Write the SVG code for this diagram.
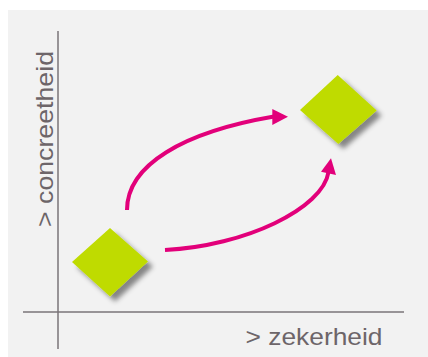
<svg xmlns="http://www.w3.org/2000/svg" width="428" height="357" viewBox="0 0 428 357">
<style>
.axis{stroke:#7a7478;stroke-width:1.5;fill:none}
.lbl{font-family:"Liberation Sans",Arial,sans-serif;font-size:24.5px;fill:#6d6569}
.node{fill:#bfdb00;filter:url(#sh)}
.arc{stroke:#e2007a;stroke-width:4;fill:none}
.head{fill:#e2007a}
</style>
<defs>
<filter id="sh" x="-30%" y="-30%" width="170%" height="170%">
<feDropShadow dx="5" dy="5" stdDeviation="2.5" flood-color="#000" flood-opacity="0.45"/>
</filter>
</defs>
<rect x="8" y="10" width="420" height="347" fill="#f2f2f2"/>
<g id="axes">
<line class="axis" x1="58" y1="31" x2="58" y2="349"/>
<line class="axis" x1="23" y1="312" x2="404" y2="312"/>
<text class="lbl" x="245.5" y="344.5" textLength="137" lengthAdjust="spacingAndGlyphs">&gt; zekerheid</text>
<text class="lbl" transform="translate(52.5,227) rotate(-90)" x="0" y="0" textLength="176" lengthAdjust="spacingAndGlyphs">&gt; concreetheid</text>
</g>
<g id="node-start">
<polygon class="node" points="72,262 110,228 148,261.5 110,296.5"/>
</g>
<g id="node-end">
<polygon class="node" points="300,110 337.7,75 376.7,110.5 338.3,144"/>
</g>
<g id="connectors">
<path class="arc" d="M127,210 C127,165 183,132 274,116.5"/>
<polygon class="head" points="288,116.7 272.3,109 272.3,125"/>
<path class="arc" d="M165,250 C245,246 323,208.5 328.5,172"/>
<polygon class="head" points="331,158.3 321,171.7 336,175"/>
</g>
</svg>
